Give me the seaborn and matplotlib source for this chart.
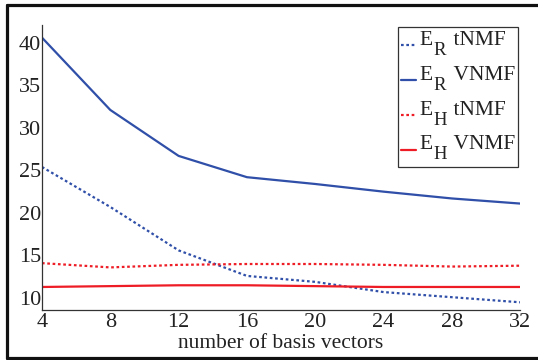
import matplotlib
matplotlib.use("Agg")
import matplotlib.pyplot as plt
import seaborn as sns
import pandas as pd
from matplotlib.lines import Line2D
from matplotlib.patches import Rectangle

# ---- data ----
n_basis = [4, 8, 12, 16, 20, 24, 28, 32]
er_tnmf = [25.4, 20.7, 15.6, 12.6, 11.9, 10.7, 10.1, 9.5]
er_vnmf = [40.6, 32.1, 26.7, 24.2, 23.4, 22.5, 21.7, 21.1]
eh_tnmf = [14.1, 13.6, 13.9, 14.0, 14.0, 13.9, 13.7, 13.8]
eh_vnmf = [11.3, 11.4, 11.5, 11.5, 11.4, 11.3, 11.3, 11.3]
series_names = ["E_R tNMF", "E_R VNMF", "E_H tNMF", "E_H VNMF"]
legend_main = ["E", "E", "E", "E"]
legend_sub = ["R", "R", "H", "H"]
legend_rest = ["tNMF", "VNMF", "tNMF", "VNMF"]
xticks = [4, 8, 12, 16, 20, 24, 28, 32]
yticks = [10, 15, 20, 25, 30, 35, 40]
xlabel = "number of basis vectors"

rows = []
for name, vals in zip(series_names, [er_tnmf, er_vnmf, eh_tnmf, eh_vnmf]):
    for x, y in zip(n_basis, vals):
        rows.append({"x": x, "y": y, "series": name})
df = pd.DataFrame(rows)

sns.set_theme(style="white")
plt.rcParams["font.family"] = ["Liberation Serif", "DejaVu Serif"]

blue = "#2f4fa8"
red = "#ee1c25"
txt = "#222222"
palette = {series_names[0]: blue, series_names[1]: blue,
           series_names[2]: red, series_names[3]: red}
dashes = {series_names[0]: (1.2, 1.2), series_names[1]: "",
          series_names[2]: (1.2, 1.2), series_names[3]: ""}

fig = plt.figure(figsize=(5.38, 3.6), dpi=100)
ax = fig.add_axes([0.078, 0.139, 0.889, 0.792])

sns.lineplot(data=df, x="x", y="y", hue="series", style="series",
             palette=palette, dashes=dashes, linewidth=1.6, ax=ax,
             hue_order=series_names, style_order=series_names)

ax.set_xlim(4, 32)
ax.set_ylim(8.6, 42.1)
ax.set_xticks(xticks)
ax.set_yticks(yticks)
ax.tick_params(direction="in", length=4, width=0.8, labelsize=16, colors=txt)
ax.tick_params(axis="y", pad=0.5)
ax.tick_params(axis="x", pad=2)
for s in ["top", "right"]:
    ax.spines[s].set_visible(False)
for s in ["left", "bottom"]:
    ax.spines[s].set_color("#333333")
    ax.spines[s].set_linewidth(0.9)
ax.set_xlabel(xlabel, fontsize=15.5, color=txt, labelpad=1.5)
ax.set_ylabel("")

# legend: main letter + gap; subscripts drawn as separate text below the baseline
handles, _ = ax.get_legend_handles_labels()
labels = [f"{m}   \u2009{r}" for m, r in zip(legend_main, legend_rest)]
leg = ax.legend(handles, labels, loc="upper right", bbox_to_anchor=(1.0, 1.0),
                fontsize=15.5, handlelength=0.7, handletextpad=0.15,
                borderpad=0.15, labelspacing=0.68, frameon=True, fancybox=False,
                borderaxespad=0.1)
leg.set_zorder(5)
leg.get_frame().set_visible(False)
for t in leg.get_texts():
    t.set_color(txt)
for ln in leg.get_lines():
    ln.set_ydata([y - 5.5 for y in ln.get_ydata()])

fig.canvas.draw()
for t, sub in zip(leg.get_texts(), legend_sub):
    ax.annotate(sub, xy=(0, 0), xycoords=t, xytext=(9.8, -3.5),
                textcoords="offset points", fontsize=13.5, color=txt,
                ha="left", va="baseline", annotation_clip=False, zorder=10)

# legend frame, extended downward to enclose the subscripts
bb = leg.get_window_extent().transformed(fig.transFigure.inverted())
extra = 9 / 360
fig.add_artist(Rectangle((bb.x0, bb.y0 - extra), bb.width, bb.height + extra,
                         transform=fig.transFigure, fill=False,
                         edgecolor="#333333", linewidth=0.9))

# outer frame (left, top, bottom)
lw = 2.3
fig.add_artist(Line2D([6.8 / 538, 6.8 / 538], [1 - 4.5 / 360, 1 - 358 / 360],
                      transform=fig.transFigure, color="#111111", lw=lw))
fig.add_artist(Line2D([6.8 / 538, 1.0], [1 - 4.5 / 360, 1 - 4.5 / 360],
                      transform=fig.transFigure, color="#111111", lw=lw))
fig.add_artist(Line2D([6.8 / 538, 1.0], [1 - 358 / 360, 1 - 358 / 360],
                      transform=fig.transFigure, color="#111111", lw=lw))

fig.savefig("out.png", dpi=100)
